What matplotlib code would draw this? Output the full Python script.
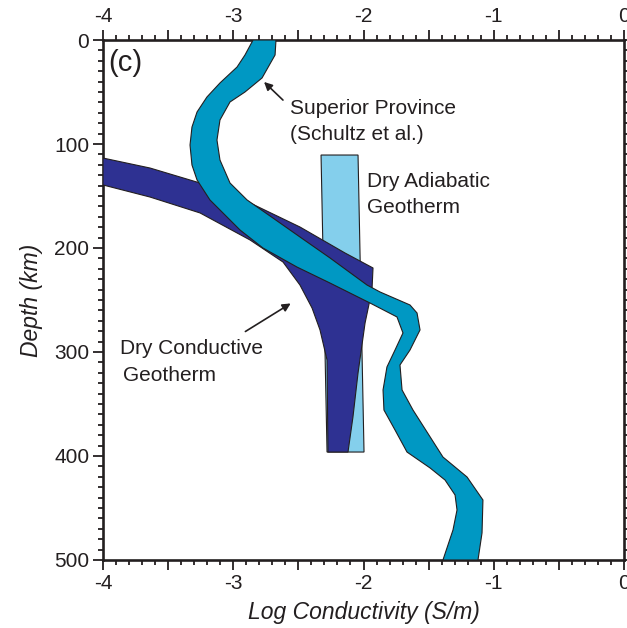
import matplotlib.pyplot as plt
import numpy as np
from matplotlib.ticker import MultipleLocator, FuncFormatter

plt.rcParams['font.family'] = ['Liberation Sans', 'DejaVu Sans']

# Superior Province (Schultz et al.) band, west edge (log S/m, km)
sp_cond_left = [-2.848, -2.910, -2.971, -3.102, -3.202, -3.278, -3.317, -3.332,
                -3.317, -3.278, -3.179, -3.063, -2.948, -2.772, -2.511, -2.257,
                -1.950, -1.743, -1.697, -1.758, -1.820, -1.850, -1.843, -1.758,
                -1.666, -1.489, -1.374, -1.297, -1.282, -1.313, -1.390]
sp_depth_left = [0, 14.4, 26, 41.3, 54.8, 69.2, 83.7, 101,
                 120.2, 134.6, 153.8, 168.3, 182.7, 200, 218.3, 233.7,
                 252.9, 266.3, 281.7, 298.1, 314.4, 336.5, 355.8, 375,
                 396.2, 411.5, 423.1, 437.5, 451.9, 471.2, 500]

# band, east edge
sp_cond_right = [-2.672, -2.679, -2.779, -2.910, -3.025, -3.102, -3.125, -3.102,
                 -3.025, -2.894, -2.695, -2.488, -2.257, -1.973, -1.873, -1.643,
                 -1.589, -1.566, -1.643, -1.720, -1.704, -1.620, -1.390, -1.205,
                 -1.083, -1.090, -1.121]
sp_depth_right = [0, 14.4, 36.5, 50, 59.6, 76.9, 96.2, 115.4,
                  137.5, 153.8, 171.2, 189.4, 209.6, 235.6, 242.3, 254.8,
                  262.5, 278.8, 298.1, 312.5, 336.5, 355.8, 401, 420.2,
                  442.3, 474, 500]

# dry conductive geotherm outline
dc_cond = [-4.0, -3.639, -3.255, -2.871, -2.488, -2.142, -1.927,
           -1.935, -1.988, -2.042, -2.081, -2.119, -2.273,
           -2.280, -2.334, -2.395, -2.488, -2.618, -2.871, -3.255, -3.639, -4.0]
dc_depth = [113.5, 123.1, 137.5, 156.7, 179.8, 204.8, 219.2,
            240.4, 272.1, 320.2, 362.5, 396.2, 396.2,
            307.7, 278.8, 257.7, 235.6, 213.5, 192.3, 166.3, 151.0, 139.4]

# dry adiabatic geotherm outline
da_cond = [-2.326, -2.042, -1.996, -2.280]
da_depth = [110.6, 110.6, 396.2, 396.2]

ink = '#231f20'

fig = plt.figure(figsize=(6.27, 6.28), dpi=100)
ax = fig.add_axes([0.1643, 0.1083, 0.8309, 0.828])

ax.fill(da_cond, da_depth, facecolor='#84cfec', edgecolor=ink, lw=0.8, zorder=2)
ax.fill(dc_cond, dc_depth, facecolor='#2e3192', edgecolor=ink, lw=0.8, zorder=3)
band_x = np.r_[sp_cond_left, sp_cond_right[::-1]]
band_y = np.r_[sp_depth_left, sp_depth_right[::-1]]
ax.fill(band_x, band_y, facecolor='#0098c3', edgecolor=ink, lw=0.8, zorder=4)

ax.set_xlim(-4, 0)
ax.set_ylim(500, 0)

ax.xaxis.set_major_locator(MultipleLocator(0.5))
ax.xaxis.set_minor_locator(MultipleLocator(0.1))
ax.xaxis.set_major_formatter(FuncFormatter(lambda v, p: '%d' % v if abs(v - round(v)) < 1e-6 else ''))
ax.yaxis.set_major_locator(MultipleLocator(100))
ax.yaxis.set_minor_locator(MultipleLocator(10))

ax.tick_params(which='both', direction='out', top=True, right=True,
               labeltop=True, labelright=False, color=ink, labelcolor=ink,
               labelsize=15, width=1.3)
ax.tick_params(which='major', length=7, pad=3)
ax.tick_params(which='minor', length=3.5)
for s in ax.spines.values():
    s.set_linewidth(1.9)
    s.set_color(ink)

ax.set_xlabel('Log Conductivity (S/m)', fontsize=16.5, style='italic', color=ink, labelpad=6)
ax.set_ylabel('Depth (km)', fontsize=16.5, style='italic', color=ink, labelpad=8)

ax.text(-3.96, 22, '(c)', fontsize=21, color=ink, va='center', ha='left')

ax.text(-2.564, 65.4, 'Superior Province', fontsize=15, color=ink, va='center', ha='left')
ax.text(-2.564, 90.5, '(Schultz et al.)', fontsize=15, color=ink, va='center', ha='left')
ax.annotate('', xy=(-2.779, 38.5), xytext=(-2.603, 59.6),
            arrowprops=dict(arrowstyle='-|>', color=ink, lw=1.2, mutation_scale=12))

ax.text(-1.973, 135.6, 'Dry Adiabatic', fontsize=15, color=ink, va='center', ha='left')
ax.text(-1.973, 160.6, 'Geotherm', fontsize=15, color=ink, va='center', ha='left')

ax.text(-3.869, 297, 'Dry Conductive', fontsize=15, color=ink, va='center', ha='left')
ax.text(-3.846, 323, 'Geotherm', fontsize=15, color=ink, va='center', ha='left')
ax.annotate('', xy=(-2.541, 251.9), xytext=(-2.925, 281.7),
            arrowprops=dict(arrowstyle='-|>', color=ink, lw=1.2, mutation_scale=12))

fig.savefig('out.png', dpi=100)
